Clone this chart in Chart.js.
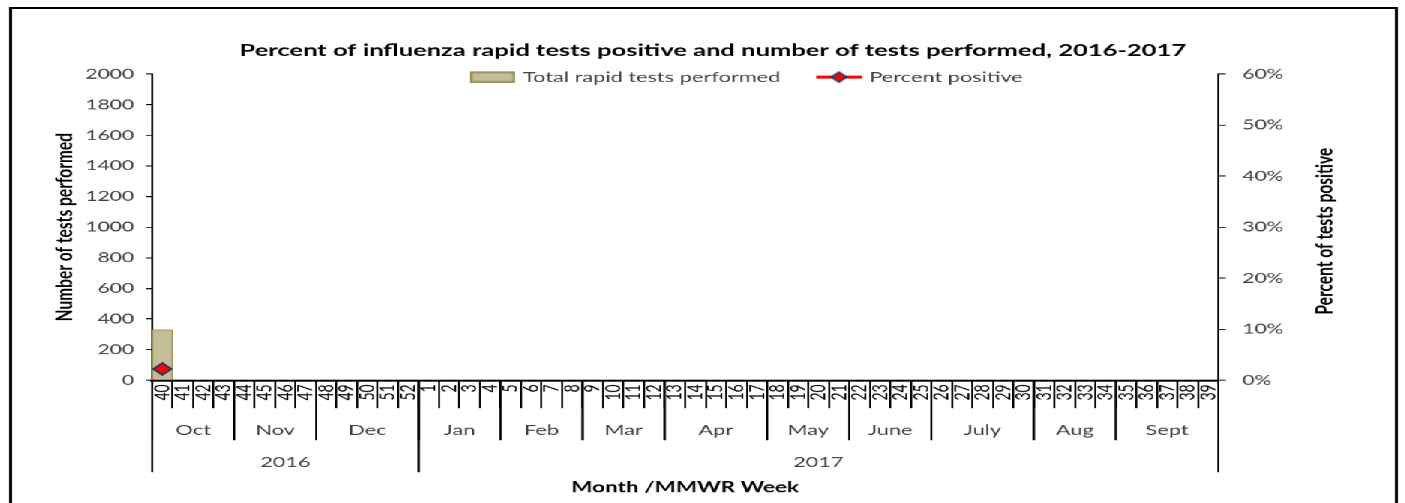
<!DOCTYPE html>
<html>
<head>
<meta charset="utf-8">
<script src="https://cdn.jsdelivr.net/npm/chart.js@4.4.0/dist/chart.umd.min.js"></script>
<style>
  html, body { margin: 0; padding: 0; background: #fff; }
  body { width: 1405px; height: 503px; overflow: hidden; position: relative; }
  /* the original picture is stretched sideways, so the whole chart is too */
  #stage { position: absolute; left: 0; top: 0; width: 937px; height: 503px; transform: scaleX(1.5); transform-origin: 0 0; }
  #frame { position: absolute; left: 6px; top: 7px; width: 922px; height: 530px; border: 2px solid #000; }
  #chart { position: absolute; left: 0; top: 0; }
</style>
</head>
<body>
<div id="stage">
  <div id="frame"></div>
  <canvas id="chart" width="937" height="503"></canvas>
</div>
<script>
// **Chart data**
const weeks = ["40","41","42","43","44","45","46","47","48","49","50","51","52",
  "1","2","3","4","5","6","7","8","9","10","11","12","13","14","15","16","17","18","19","20",
  "21","22","23","24","25","26","27","28","29","30","31","32","33","34","35","36","37","38","39"];
const totalTests = [330, null, null, null, null, null, null, null, null, null, null, null, null,
  null, null, null, null, null, null, null, null, null, null, null, null, null, null, null, null,
  null, null, null, null, null, null, null, null, null, null, null, null, null, null, null, null,
  null, null, null, null, null, null, null];
const percentPositive = [2.2, null, null, null, null, null, null, null, null, null, null, null, null,
  null, null, null, null, null, null, null, null, null, null, null, null, null, null, null, null,
  null, null, null, null, null, null, null, null, null, null, null, null, null, null, null, null,
  null, null, null, null, null, null, null];
const months = ["Oct", "Nov", "Dec", "Jan", "Feb", "Mar", "Apr", "May", "June", "July", "Aug", "Sept"];
const monthWeeks = [4, 4, 5, 4, 4, 4, 5, 4, 4, 5, 4, 5];
const years = ["2016", "2017"];
const yearWeeks = [13, 39];

const FONT = "Lato";
const BAR_FILL = "#C4BD97", BAR_EDGE = "#948A54";
const LINE_RED = "#FF0000", MARK_EDGE = "#1F3864";

// small pictures for the legend keys
function swatch(w, h, paint) {
    let c = document.createElement("canvas");
    c.width = w; c.height = h;
    paint(c.getContext("2d"));
    return c;
}
const barKey = swatch(30, 11, (g) => {
    g.fillStyle = BAR_FILL; g.fillRect(0, 0, 30, 11);
    g.strokeStyle = BAR_EDGE; g.lineWidth = 1.5; g.strokeRect(0.75, 0.75, 28.5, 9.5);
});
const lineKey = swatch(31, 13, (g) => {
    g.strokeStyle = LINE_RED; g.lineWidth = 3;
    g.beginPath(); g.moveTo(0, 6.5); g.lineTo(31, 6.5); g.stroke();
    g.beginPath(); g.moveTo(15.5, 1.5); g.lineTo(20.5, 6.5); g.lineTo(15.5, 11.5); g.lineTo(10.5, 6.5); g.closePath();
    g.fillStyle = LINE_RED; g.fill();
    g.strokeStyle = MARK_EDGE; g.lineWidth = 1.5; g.stroke();
});

// **Month / year rows under the week labels**
const groupAxis = {
    id: "groupAxis",
    afterDraw(chart) {
        let x = chart.scales.x, ctx = chart.ctx;
        let step = x.getPixelForValue(1) - x.getPixelForValue(0);
        let edge = (i) => x.getPixelForValue(i) - step / 2;
        let top = x.top;
        ctx.save();
        ctx.strokeStyle = "#000";
        ctx.lineWidth = 1.3;
        ctx.fillStyle = "#404040";
        ctx.font = "14.5px " + FONT;
        ctx.textAlign = "center";
        ctx.textBaseline = "middle";

        let drawRow = (names, sizes, depth, labelY) => {
            let start = 0;
            names.forEach((name, k) => {
                let end = start + sizes[k];
                let a = edge(start), b = edge(end);
                ctx.beginPath();
                ctx.moveTo(a, top); ctx.lineTo(a, top + depth);
                ctx.moveTo(b, top); ctx.lineTo(b, top + depth);
                ctx.stroke();
                ctx.fillText(name, (a + b) / 2, top + labelY);
                start = end;
            });
        };
        drawRow(months, monthWeeks, 60, 50);
        drawRow(years, yearWeeks, 92, 82);

        // right axis title reads bottom to top, like the left one
        let y1 = chart.scales.y1;
        ctx.fillStyle = "#000";
        ctx.font = "bold 15.5px " + FONT;
        ctx.translate(y1.right - 9.3, (chart.chartArea.top + chart.chartArea.bottom) / 2 + 4);
        ctx.rotate(-Math.PI / 2);
        ctx.fillText("Percent of tests positive", 0, 0);
        ctx.restore();
    }
};

// legend overlaps the top of the plot, a bit right of centre; title nudged right
const legendSpot = {
    id: "legendSpot",
    afterLayout(chart) {
        let lg = chart.legend;
        lg.left = 289.3;
        lg.right = lg.left + 1500;
        lg.top = 77 - 26 - 7.25;
        lg.bottom = lg.top + 60;
        lg.width = 1500;
        lg.height = 60;
        let tb = chart.titleBlock;
        tb.left += 12; tb.right += 12;
    }
};

let ctx = document.getElementById("chart").getContext("2d");
new Chart(ctx, {
    data: {
        labels: weeks,
        datasets: [{
            type: "line",
            label: "Percent positive",
            data: percentPositive,
            yAxisID: "y1",
            order: 1,
            borderColor: LINE_RED,
            borderWidth: 3,
            pointStyle: "rectRot",
            pointRadius: 6,
            pointBackgroundColor: LINE_RED,
            pointBorderColor: MARK_EDGE,
            pointBorderWidth: 1.5
        }, {
            type: "bar",
            label: "Total rapid tests performed",
            data: totalTests,
            yAxisID: "y",
            order: 2,
            backgroundColor: BAR_FILL,
            borderColor: BAR_EDGE,
            borderWidth: 1,
            barPercentage: 1,
            categoryPercentage: 1
        }]
    },
    options: {
        responsive: false,
        animation: false,
        devicePixelRatio: 1.5,
        layout: { padding: { left: 34, right: 45, top: 0, bottom: 0 } },
        plugins: {
            title: {
                display: true,
                text: "Percent of influenza rapid tests positive and number of tests performed, 2016-2017",
                color: "#000",
                font: { family: FONT, size: 17, weight: "bold", lineHeight: 1.2 },
                padding: { top: 40, bottom: 12.6 }
            },
            legend: {
                position: "top",
                align: "start",
                maxHeight: 1,
                labels: {
                    usePointStyle: true,
                    pointStyleWidth: 26,
                    padding: 26,
                    color: "#404040",
                    font: { family: FONT, size: 14.5 },
                    generateLabels: () => [
                        { text: "Total rapid tests performed", pointStyle: barKey, fontColor: "#404040", lineWidth: 0, hidden: false, datasetIndex: 1 },
                        { text: "Percent positive", pointStyle: lineKey, fontColor: "#404040", lineWidth: 0, hidden: false, datasetIndex: 0 }
                    ]
                }
            },
            tooltip: { enabled: false }
        },
        scales: {
            x: {
                offset: true,
                grid: { offset: true, drawOnChartArea: false, tickLength: 28, color: "#000", lineWidth: 1.3 },
                border: { display: true, color: "#000", width: 2 },
                ticks: {
                    autoSkip: false, minRotation: 90, maxRotation: 90, padding: -24,
                    color: "#000", font: { family: FONT, size: 14 }
                },
                title: {
                    display: true, text: "Month /MMWR Week", color: "#000",
                    font: { family: FONT, size: 15, weight: "bold", lineHeight: 1.2 },
                    padding: { top: 0, bottom: 7 }
                },
                afterFit: (s) => { s.height = 123; }
            },
            y: {
                position: "left",
                min: 0, max: 2000,
                ticks: { stepSize: 200, padding: 8, color: "#404040", font: { family: FONT, size: 14 }, callback: (v) => String(v) },
                grid: { drawOnChartArea: false, tickLength: 4, color: "#000" },
                border: { display: true, color: "#000", width: 1.3 },
                title: {
                    display: true, text: "Number of tests performed", color: "#000",
                    font: { family: FONT, size: 15.5, weight: "bold", lineHeight: 1.2 },
                    padding: 0
                },
                afterFit: (s) => { s.width = 67.3; }
            },
            y1: {
                position: "right",
                min: 0, max: 60,
                ticks: { stepSize: 10, padding: 11, color: "#404040", font: { family: FONT, size: 14 }, callback: (v) => v + "%" },
                grid: { drawOnChartArea: false, tickLength: 5, color: "#000" },
                border: { display: true, color: "#000", width: 1.3 },
                afterFit: (s) => { s.width = 80; }
            }
        }
    },
    plugins: [groupAxis, legendSpot]
});
</script>
</body>
</html>
